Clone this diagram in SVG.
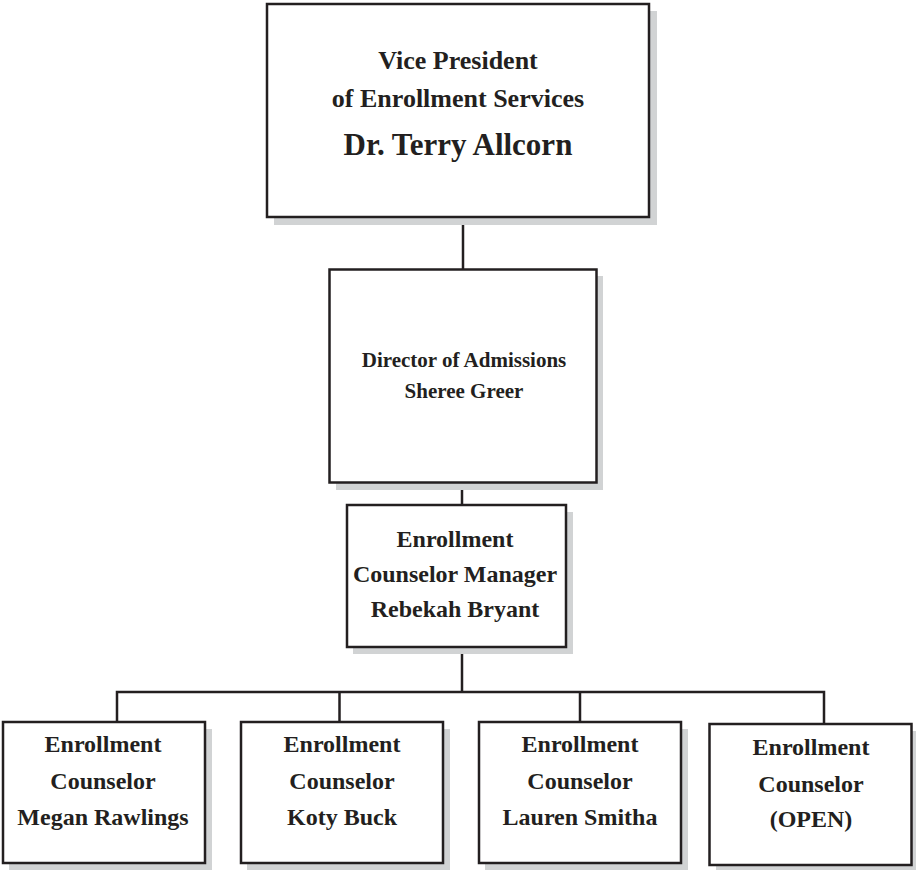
<svg xmlns="http://www.w3.org/2000/svg" width="916" height="870" viewBox="0 0 916 870">
<style>
.box{fill:#fff;stroke:#231f20;stroke-width:2.5}
.sh{fill:#d1d3d4}
.t{font-family:"Liberation Serif","Times New Roman",serif;font-weight:bold;fill:#231f20;text-anchor:middle}
.c{stroke:#231f20;stroke-width:2.5;fill:none}
</style>
<rect width="916" height="870" fill="#fff"/>
<g id="connectors">
<path class="c" d="M463 217V269"/>
<path class="c" d="M462 483V505"/>
<path class="c" d="M462 647V692"/>
<path class="c" d="M117 722V692H824V724"/>
<path class="c" d="M339.5 692V722"/>
<path class="c" d="M580 692V722"/>
</g>
<g id="vp">
<rect class="sh" x="274" y="11" width="383" height="214"/>
<rect class="box" x="267" y="4" width="382" height="213"/>
<text class="t" x="458" y="69" font-size="26">Vice President</text>
<text class="t" x="458" y="107" font-size="26">of Enrollment Services</text>
<text class="t" x="458" y="155" font-size="31">Dr. Terry Allcorn</text>
</g>
<g id="director">
<rect class="sh" x="336" y="276" width="267" height="214"/>
<rect class="box" x="329.5" y="269.5" width="267" height="213"/>
<text class="t" x="464" y="367" font-size="21">Director of Admissions</text>
<text class="t" x="464" y="398" font-size="21">Sheree Greer</text>
</g>
<g id="manager">
<rect class="sh" x="353" y="512" width="220" height="142"/>
<rect class="box" x="347" y="505" width="219" height="142"/>
<text class="t" x="455" y="547" font-size="24">Enrollment</text>
<text class="t" x="455" y="582" font-size="24">Counselor Manager</text>
<text class="t" x="455" y="617" font-size="24">Rebekah Bryant</text>
</g>
<g id="megan">
<rect class="sh" x="9" y="729" width="203" height="142"/>
<rect class="box" x="3" y="722" width="202" height="141"/>
<text class="t" x="103" y="752" font-size="24">Enrollment</text>
<text class="t" x="103" y="789" font-size="24">Counselor</text>
<text class="t" x="103" y="825" font-size="24">Megan Rawlings</text>
</g>
<g id="koty">
<rect class="sh" x="247" y="729" width="203" height="142"/>
<rect class="box" x="241" y="722" width="202" height="141"/>
<text class="t" x="342" y="752" font-size="24">Enrollment</text>
<text class="t" x="342" y="789" font-size="24">Counselor</text>
<text class="t" x="342" y="825" font-size="24">Koty Buck</text>
</g>
<g id="lauren">
<rect class="sh" x="485" y="729" width="203" height="142"/>
<rect class="box" x="479" y="722" width="202" height="141"/>
<text class="t" x="580" y="752" font-size="24">Enrollment</text>
<text class="t" x="580" y="789" font-size="24">Counselor</text>
<text class="t" x="580" y="825" font-size="24">Lauren Smitha</text>
</g>
<g id="open">
<rect class="sh" x="716" y="731" width="203" height="142"/>
<rect class="box" x="709.5" y="724" width="202" height="141"/>
<text class="t" x="811" y="755" font-size="24">Enrollment</text>
<text class="t" x="811" y="792" font-size="24">Counselor</text>
<text class="t" x="811" y="827" font-size="24">(OPEN)</text>
</g>
</svg>
